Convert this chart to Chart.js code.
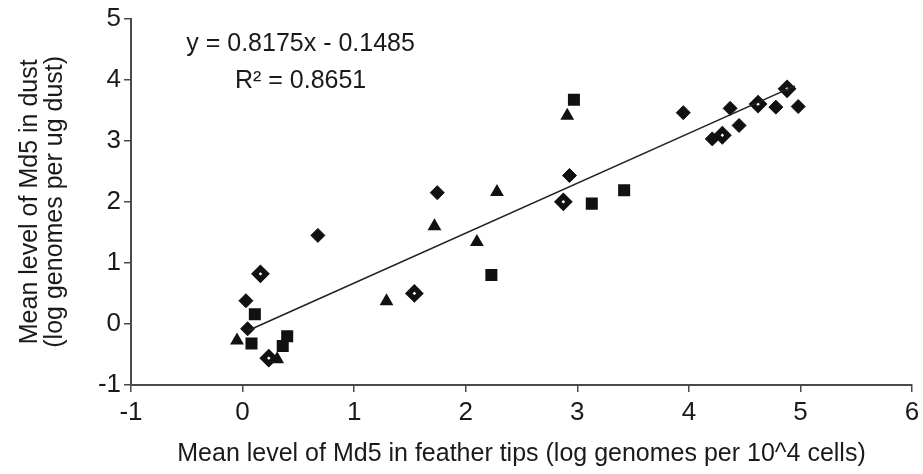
<!DOCTYPE html>
<html>
<head>
<meta charset="utf-8">
<script src="https://cdn.jsdelivr.net/npm/chart.js@4/dist/chart.umd.min.js"></script>
<style>
  html, body { margin: 0; padding: 0; background: #fff; }
  #wrap { width: 923px; height: 474px; }
</style>
</head>
<body>
<div id="wrap"><canvas id="chart" width="923" height="474"></canvas></div>
<script>
// Md5 feather tips vs dust

// filled diamonds
const diamondX = [0.03, 0.045, 0.675, 1.745, 2.93, 3.95, 4.21, 4.37, 4.45, 4.78, 4.98];
const diamondY = [0.38, -0.08, 1.45, 2.15, 2.43, 3.46, 3.03, 3.53, 3.25, 3.55, 3.56];

// open diamonds
const openX = [0.16, 0.235, 1.54, 2.875, 4.30, 4.62, 4.88];
const openY = [0.82, -0.56, 0.50, 2.00, 3.09, 3.60, 3.85];

// squares
const squareX = [0.11, 0.08, 0.40, 0.36, 2.23, 3.13, 3.42, 2.97];
const squareY = [0.16, -0.32, -0.20, -0.36, 0.80, 1.97, 2.19, 3.67];

// triangles
const triX = [-0.05, 0.31, 1.29, 1.72, 2.10, 2.28, 2.91];
const triY = [-0.27, -0.58, 0.37, 1.60, 1.34, 2.16, 3.41];

// trend line
const slope = 0.8175;
const intercept = -0.1485;
const fitRange = [0.045, 4.95];
const eqLabel = 'y = 0.8175x - 0.1485';
const r2Label = 'R\u00B2 = 0.8651';

const xTitle = 'Mean level of Md5 in feather tips (log genomes per 10^4 cells)';
const yTitle = ['Mean level of Md5 in dust', '(log genomes per ug dust)'];

function pts(xs, ys) {
    return xs.map((x, i) => ({ x: x, y: ys[i] }));
}

const ink = '#1a1a1a';
const axisCol = '#4a4a4a';
const fontFam = '"Liberation Sans", Arial, Helvetica, sans-serif';

// equation text placed in data coordinates
const notes = [
    { text: eqLabel, x: 0.52, y: 4.58 },
    { text: r2Label, x: 0.52, y: 3.97 }
];

const notePlugin = {
    id: 'notes',
    afterDatasetsDraw(chart) {
        const ctx = chart.ctx;
        const xs = chart.scales.x, ys = chart.scales.y;
        ctx.save();
        ctx.font = '25px ' + fontFam;
        ctx.fillStyle = ink;
        ctx.textAlign = 'center';
        ctx.textBaseline = 'middle';
        notes.forEach(n => {
            ctx.fillText(n.text, xs.getPixelForValue(n.x), ys.getPixelForValue(n.y));
        });
        ctx.restore();
    }
};

new Chart(document.getElementById('chart'), {
    type: 'scatter',
    data: {
        datasets: [
            {
                type: 'line',
                data: fitRange.map(x => ({ x: x, y: slope * x + intercept })),
                borderColor: '#222',
                borderWidth: 1.6,
                pointRadius: 0,
                fill: false,
                order: 0
            },
            {
                data: pts(diamondX, diamondY),
                pointStyle: 'rectRot',
                pointRadius: 7,
                backgroundColor: '#111',
                borderColor: '#111',
                borderWidth: 1,
                order: 1
            },
            {
                data: pts(openX, openY),
                pointStyle: 'rectRot',
                pointRadius: 5.6,
                backgroundColor: '#fff',
                borderColor: '#111',
                borderWidth: 5.4,
                order: 1
            },
            {
                data: pts(squareX, squareY),
                pointStyle: 'rect',
                pointRadius: 8.5,
                backgroundColor: '#111',
                borderColor: '#111',
                borderWidth: 0,
                order: 1
            },
            {
                data: pts(triX, triY),
                pointStyle: 'triangle',
                pointRadius: 8,
                backgroundColor: '#111',
                borderColor: '#111',
                borderWidth: 0,
                order: 1
            }
        ]
    },
    options: {
        responsive: false,
        animation: false,
        layout: { padding: { top: 15, right: 4, left: 0, bottom: 0 } },
        plugins: {
            legend: { display: false },
            tooltip: { enabled: false }
        },
        scales: {
            x: {
                type: 'linear',
                min: -1,
                max: 6,
                afterFit: (s) => {
                    s.height = 89;
                    s.paddingLeft = 0;
                    s.paddingRight = 0;
                },
                ticks: { stepSize: 1, color: ink, padding: 5, maxRotation: 0, font: { family: fontFam, size: 26 } },
                grid: { drawOnChartArea: false, tickLength: 7, color: axisCol, lineWidth: 1.5 },
                border: { color: axisCol, width: 2 },
                title: {
                    display: true,
                    text: xTitle,
                    color: ink,
                    padding: { top: 0, bottom: 5 },
                    font: { family: fontFam, size: 25, lineHeight: 1.2 }
                }
            },
            y: {
                type: 'linear',
                min: -1,
                max: 5,
                afterFit: (s) => { s.width = 131; },
                ticks: { stepSize: 1, color: ink, padding: 3, font: { family: fontFam, size: 26 } },
                grid: { drawOnChartArea: false, tickLength: 7, color: axisCol, lineWidth: 1.5 },
                border: { color: axisCol, width: 2 },
                title: {
                    display: true,
                    text: yTitle,
                    color: ink,
                    padding: { top: 17.5, bottom: 0 },
                    font: { family: fontFam, size: 25, lineHeight: 1 }
                }
            }
        }
    },
    plugins: [notePlugin]
});
</script>
</body>
</html>
